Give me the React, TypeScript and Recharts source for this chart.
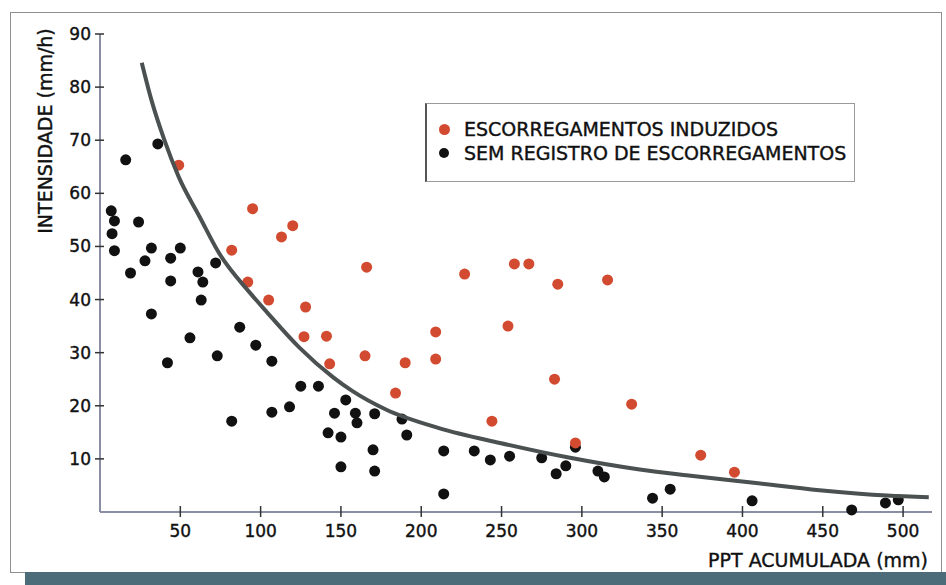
import { ScatterChart, Scatter, XAxis, YAxis } from 'recharts';

// pontos com escorregamentos induzidos (ppt acumulada mm, intensidade mm/h)
const induzidosPpt = [49, 95, 82, 92, 105, 113, 120, 128, 127, 141, 143, 166, 165, 190, 184, 209, 209, 227, 258, 267, 254, 285, 316, 283, 244, 296, 331, 374, 395];
const induzidosInt = [65.3, 57.1, 49.3, 43.3, 39.9, 51.8, 53.9, 38.6, 33.0, 33.1, 27.9, 46.1, 29.4, 28.1, 22.4, 33.9, 28.8, 44.8, 46.7, 46.7, 35.0, 42.9, 43.7, 25.0, 17.1, 13.0, 20.3, 10.7, 7.5];

// pontos sem registro de escorregamentos
const semRegistroPpt = [36, 16, 7, 9, 7.5, 9, 24, 19, 28, 32, 44, 50, 44, 61, 64, 72, 63, 32, 56, 42, 73, 87, 97, 107, 82, 107, 118, 125, 136, 153, 146, 159, 160, 171, 142, 150, 150, 170, 171, 188, 191, 214, 214, 233, 243, 255, 275, 284, 290, 296, 310, 314, 344, 355, 406, 468, 489, 497];
const semRegistroInt = [69.3, 66.3, 56.7, 54.8, 52.4, 49.2, 54.6, 45.0, 47.3, 49.7, 47.8, 49.7, 43.5, 45.2, 43.3, 46.9, 39.9, 37.3, 32.8, 28.1, 29.4, 34.8, 31.4, 28.4, 17.1, 18.8, 19.8, 23.7, 23.7, 21.1, 18.6, 18.6, 16.8, 18.5, 14.9, 14.1, 8.5, 11.7, 7.7, 17.5, 14.5, 11.5, 3.4, 11.5, 9.8, 10.5, 10.2, 7.2, 8.7, 12.2, 7.7, 6.6, 2.6, 4.3, 2.1, 0.4, 1.7, 2.3];

// curva limite
const curvaPpt = [26, 32, 40, 49, 62, 74, 93, 104, 124, 145, 157, 178, 211, 249, 291, 336, 365, 407, 448, 490, 516];
const curvaInt = [84.6, 77.6, 70.1, 63.1, 55.6, 48.8, 41.4, 37.6, 31.0, 25.4, 22.8, 19.3, 15.8, 13.0, 10.3, 8.0, 6.9, 5.5, 4.1, 3.1, 2.8];

const xTicks = [50, 100, 150, 200, 250, 300, 350, 400, 450, 500];
const yTicks = [10, 20, 30, 40, 50, 60, 70, 80, 90];

const toPoints = (xs: number[], ys: number[]) => xs.map((x, i) => ({ x, y: ys[i] }));

const induzidos = toPoints(induzidosPpt, induzidosInt);
const semRegistro = toPoints(semRegistroPpt, semRegistroInt);
const curva = toPoints(curvaPpt, curvaInt);

const RED = '#d24a30';
const BLACK = '#111111';
const FONT = '"DejaVu Sans", Verdana, sans-serif';

const XTick = (props: any) => {
    const { x, y, payload } = props;
    return (
        <g>
            <line x1={x} x2={x} y1={y - 6} y2={y + 5} stroke="#333" strokeWidth={1.5} />
            <text x={x} y={y + 25} textAnchor="middle" fontSize={17} fill="#111" stroke="#111" strokeWidth={0.4} fontFamily={FONT}>
                {payload.value}
            </text>
        </g>
    );
};

const YTick = (props: any) => {
    const { x, y, payload } = props;
    return (
        <g>
            <line x1={x - 5} x2={x + 4} y1={y} y2={y} stroke="#333" strokeWidth={1.5} />
            <text x={x - 9} y={y + 6} textAnchor="end" fontSize={17} fill="#111" stroke="#111" strokeWidth={0.4} fontFamily={FONT}>
                {payload.value}
            </text>
        </g>
    );
};

const dot = (color: string) => (props: any) => <circle cx={props.cx} cy={props.cy} r={5.5} fill={color} />;
const noDot = () => <g />;

const LegendBox = () => (
    <div
        style={{
            position: 'absolute',
            left: 425,
            top: 103,
            width: 430,
            height: 79,
            border: '1px solid #9a9a9a',
            borderLeft: '2px solid #555',
            background: '#fff',
            boxSizing: 'border-box',
            fontFamily: FONT,
            fontSize: 19,
            color: '#111',
            WebkitTextStroke: '0.4px #111',
            padding: '13px 0 0 10px',
        }}
    >
        <div style={{ display: 'flex', alignItems: 'center', height: 24 }}>
            <span style={{ width: 11, height: 11, borderRadius: 6, background: RED, marginRight: 14, marginLeft: 2 }} />
            ESCORREGAMENTOS INDUZIDOS
        </div>
        <div style={{ display: 'flex', alignItems: 'center', height: 24 }}>
            <span style={{ width: 10, height: 10, borderRadius: 5, background: BLACK, marginRight: 15, marginLeft: 2 }} />
            SEM REGISTRO DE ESCORREGAMENTOS
        </div>
    </div>
);

export default function App() {
    return (
        <div style={{ position: 'absolute', left: 0, top: 0, width: 946, height: 585, background: '#fff', overflow: 'hidden' }}>
            <div style={{ position: 'absolute', left: 10, top: 12, width: 930, height: 559, border: '1px solid #8f8f8f' }} />
            <div style={{ position: 'absolute', left: 25, top: 572, width: 921, height: 13, background: '#4b6c78' }} />
            <div style={{ position: 'absolute', left: 0, top: 0 }}>
                <ScatterChart width={946} height={585} margin={{ top: 34, right: 14, bottom: 33, left: 40 }}>
                    <XAxis
                        type="number"
                        dataKey="x"
                        domain={[0, 518]}
                        ticks={xTicks}
                        tick={<XTick />}
                        tickSize={0}
                        tickMargin={0}
                        height={40}
                        axisLine={{ stroke: '#8b8fa3', strokeWidth: 2 }}
                        label={{
                            content: () => (
                                <text x={928} y={567} textAnchor="end" fontSize={19} fill="#111" stroke="#111" strokeWidth={0.4} fontFamily={FONT}>
                                    PPT ACUMULADA (mm)
                                </text>
                            ),
                        }}
                    />
                    <YAxis
                        type="number"
                        dataKey="y"
                        domain={[0, 90]}
                        ticks={yTicks}
                        tick={<YTick />}
                        tickSize={0}
                        tickMargin={0}
                        width={60}
                        axisLine={{ stroke: '#8b8fa3', strokeWidth: 2 }}
                        label={{
                            content: () => (
                                <text
                                    x={52}
                                    y={131}
                                    transform="rotate(-90 52 131)"
                                    textAnchor="middle"
                                    fontSize={19}
                                    fill="#111"
                                    stroke="#111"
                                    strokeWidth={0.4}
                                    fontFamily={FONT}
                                >
                                    INTENSIDADE (mm/h)
                                </text>
                            ),
                        }}
                    />
                    <Scatter data={semRegistro} shape={dot(BLACK)} isAnimationActive={false} legendType="none" />
                    <Scatter data={induzidos} shape={dot(RED)} isAnimationActive={false} legendType="none" />
                    <Scatter
                        data={curva}
                        shape={noDot}
                        line={{ stroke: '#4a5150', strokeWidth: 4 }}
                        lineJointType="monotoneX"
                        isAnimationActive={false}
                        legendType="none"
                    />
                </ScatterChart>
            </div>
            <LegendBox />
        </div>
    );
}
